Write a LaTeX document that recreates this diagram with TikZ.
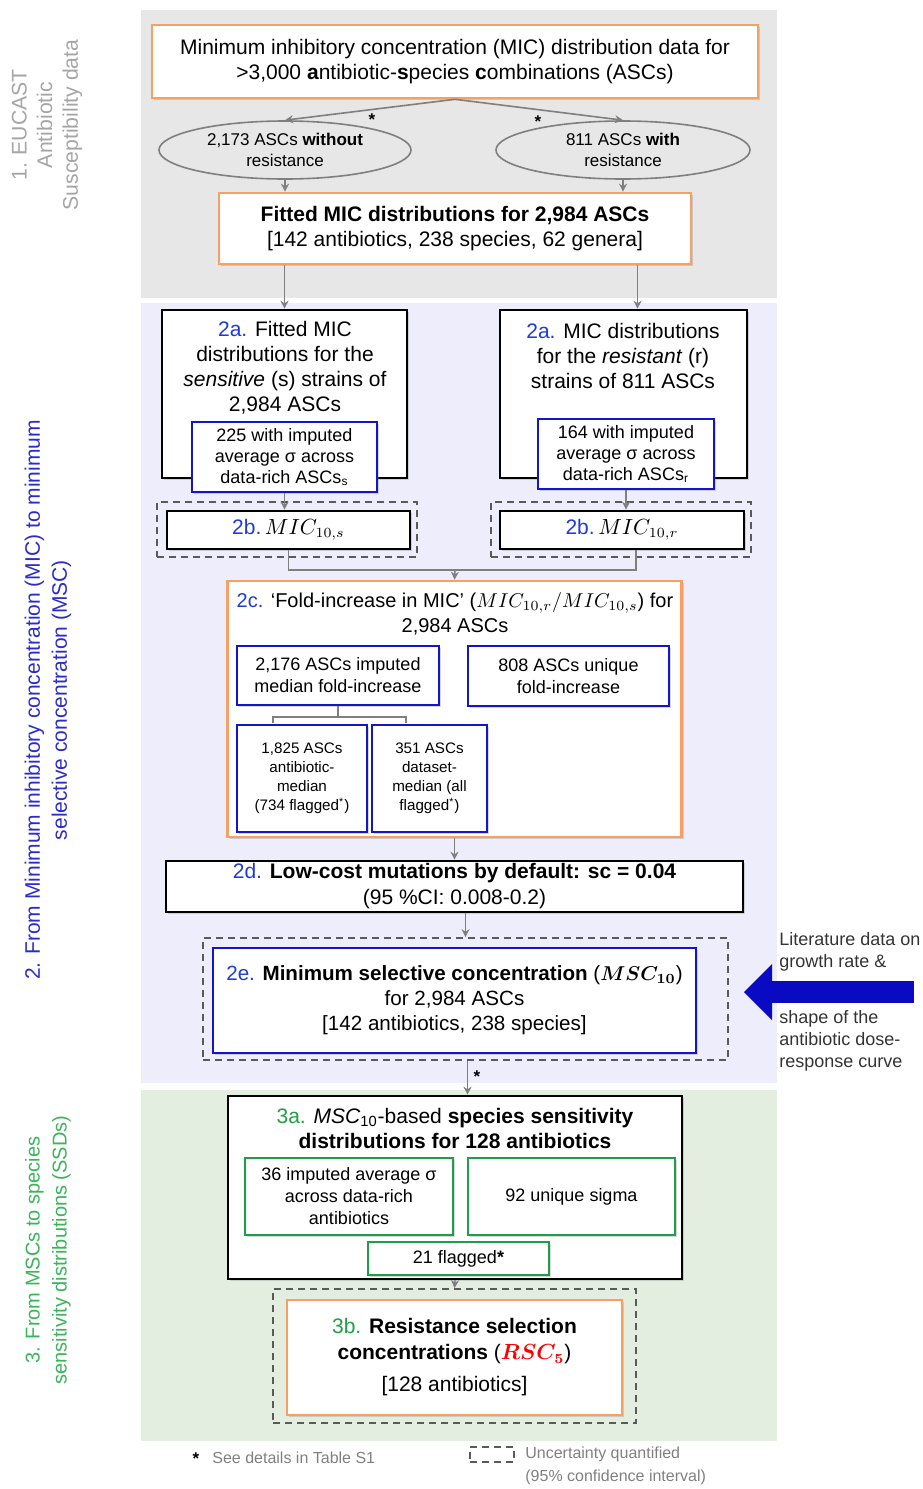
\documentclass[tikz,border=0pt]{standalone}
\usepackage{fontspec}
\setmainfont{Liberation Sans}
\usetikzlibrary{arrows.meta,shapes.geometric,shadows,positioning}

\definecolor{secgray}{HTML}{E7E7E7}
\definecolor{seclav}{HTML}{EDEDFB}
\definecolor{secgreen}{HTML}{E3EEE1}
\definecolor{boxorange}{HTML}{F7A064}
\definecolor{boxblue}{HTML}{1414C8}
\definecolor{boxgreen}{HTML}{1E9E46}
\definecolor{labblue}{HTML}{1F3BD6}
\definecolor{grntxt}{HTML}{1EA046}
\definecolor{sec1txt}{HTML}{A5A5A5}
\definecolor{sec2txt}{HTML}{2B2BCC}
\definecolor{sec3txt}{HTML}{3BB45A}
\definecolor{linegray}{HTML}{7F7F7F}
\definecolor{dashgray}{HTML}{5A5A5A}
\definecolor{arrowblue}{HTML}{0A0AC2}
\definecolor{legtxt}{HTML}{808080}
\definecolor{littxt}{HTML}{333333}

\newcommand{\fmain}{\fontsize{10.5}{12.5}\selectfont}
\newcommand{\fmid}{\fontsize{9}{11}\selectfont}
\newcommand{\fsmall}{\fontsize{8.5}{10.8}\selectfont}
\newcommand{\ftiny}{\fontsize{7.6}{9.5}\selectfont}
\newcommand{\stepno}[1]{\textcolor{labblue}{#1}}
\newcommand{\greenno}[1]{\textcolor{grntxt}{#1}}

\begin{document}
\begin{tikzpicture}[x=0.5pt, y=-0.5pt,
    every node/.style={font=\fmain, align=center, inner sep=0pt},
    shade/.style={drop shadow={shadow xshift=1.2pt, shadow yshift=-1.2pt, opacity=0.3}},
    orangebox/.style={draw=boxorange, line width=1.3pt, fill=white, shade},
    blackbox/.style={draw=black, line width=1.3pt, fill=white, shade},
    bluebox/.style={draw=boxblue, line width=1pt, fill=white, shade},
    greenbox/.style={draw=boxgreen, line width=1pt, fill=white, shade},
    dashbox/.style={draw=dashgray, line width=0.9pt, dash pattern=on 3.5pt off 2.5pt},
    oval/.style={ellipse, draw=linegray, line width=0.8pt, fill=secgray, font=\fsmall},
    link/.style={draw=linegray, line width=0.8pt},
    arr/.style={link, -{Stealth[length=4pt,width=4pt]}},
    bigarrow/.style={draw=arrowblue, line width=11pt, -{Triangle[length=14pt,width=28pt,line width=0pt]}},
    starmark/.style={font=\fsmall\bfseries}]
    \useasboundingbox (0,0) rectangle (922,1489);

    % Sections
    \fill[secgray] (141,10) rectangle (777,298);
    \fill[seclav] (141,303) rectangle (777,1083);
    \fill[secgreen] (141,1090) rectangle (777,1441);
    \node[rotate=90, text=sec1txt, font=\fontsize{10.6}{12.8}\selectfont] (sec1) at (47,125) {1. EUCAST\\Antibiotic\\Susceptibility data};
    \node[rotate=90, text=sec2txt, font=\fontsize{10.5}{13.5}\selectfont] (sec2) at (48,700) {2. From Minimum inhibitory concentration (MIC) to minimum\\selective concentration (MSC)};
    \node[rotate=90, text=sec3txt, font=\fontsize{10}{13.5}\selectfont] (sec3) at (48,1250) {3. From MSCs to species\\sensitivity distributions (SSDs)};

    % Step 1
    \node[orangebox, minimum width=303pt, minimum height=36.5pt] (mic) at (455,61.5) {Minimum inhibitory concentration (MIC) distribution data for\\>3,000 \textbf{a}ntibiotic-\textbf{s}pecies \textbf{c}ombinations (ASCs)};
    \node[oval, minimum width=126pt, minimum height=29pt] (nores) at (285,150) {2,173 ASCs \textbf{without}\\resistance};
    \node[oval, minimum width=127pt, minimum height=29pt] (withres) at (623,150) {811 ASCs \textbf{with}\\resistance};
    \node[starmark] (star1) at (372,120) {*};
    \node[starmark] (star2) at (538,122) {*};
    \node[orangebox, minimum width=236pt, minimum height=35.5pt] (fitted) at (455,228.5) {\textbf{Fitted MIC distributions for 2,984 ASCs}\\{[}142 antibiotics, 238 species, 62 genera{]}};

    % Step 2a, 2b
    \node[blackbox, minimum width=122.5pt, minimum height=84pt] (sens) at (284.5,394) {};
    \node (senstxt) at (285,368) {\stepno{2a.} Fitted MIC\\distributions for the\\\textit{sensitive} (s) strains of\\2,984 ASCs};
    \node[blackbox, minimum width=123.5pt, minimum height=84pt] (res) at (623.5,394) {};
    \node (restxt) at (623,356) {\stepno{2a.} MIC distributions\\for the \textit{resistant} (r)\\strains of 811 ASCs};
    \node[bluebox, font=\fontsize{9}{10.5}\selectfont, minimum width=92.5pt, minimum height=35pt] (sensimp) at (284.5,457) {225 with imputed\\average σ across\\data-rich ASCs\textsubscript{s}};
    \node[bluebox, font=\fontsize{9}{10.5}\selectfont, minimum width=88pt, minimum height=35pt] (resimp) at (626,454) {164 with imputed\\average σ across\\data-rich ASCs\textsubscript{r}};
    \node[dashbox, minimum width=130pt, minimum height=27.5pt] (micsdash) at (287,529.5) {};
    \node[blackbox, minimum width=121.5pt, minimum height=19pt] (mics) at (288.5,530) {\stepno{2b.}\,$MIC_{10,s}$};
    \node[dashbox, minimum width=130pt, minimum height=27.5pt] (micrdash) at (621,529.5) {};
    \node[blackbox, minimum width=122pt, minimum height=19pt] (micr) at (622,530) {\stepno{2b.}\,$MIC_{10,r}$};
    \coordinate (join) at (455,570);

    % Step 2c
    \node[orangebox, minimum width=227pt, minimum height=128pt] (fold) at (454.5,709) {};
    \node[font=\fontsize{10}{12.5}\selectfont] (foldtxt) at (455,614) {\stepno{2c.} ‘Fold-increase in MIC’ ($MIC_{10,r}/MIC_{10,s}$) for\\2,984 ASCs};
    \node[bluebox, font=\fmid, minimum width=101pt, minimum height=29.5pt] (foldimp) at (338,675.5) {2,176 ASCs imputed\\median fold-increase};
    \node[bluebox, font=\fmid, minimum width=100.5pt, minimum height=30pt] (folduniq) at (568.5,676) {808 ASCs unique\\fold-increase};
    \node[bluebox, font=\ftiny, minimum width=65pt, minimum height=53.5pt] (foldab) at (302,778.5) {1,825 ASCs\\antibiotic-\\median\\(734 flagged\textsuperscript{*})};
    \node[bluebox, font=\ftiny, minimum width=57.5pt, minimum height=53.5pt] (foldds) at (429.5,778.5) {351 ASCs\\dataset-\\median (all\\flagged\textsuperscript{*})};

    % Step 2d, 2e
    \node[blackbox, minimum width=288.5pt, minimum height=25.5pt, font=\fontsize{10.5}{13}\selectfont] (cost) at (454.5,886.5) {\stepno{2d.} \textbf{Low-cost mutations by default: sc = 0.04}\\(95 \%CI: 0.008-0.2)};
    \node[dashbox, minimum width=262.5pt, minimum height=61pt] (mscdash) at (465.5,999) {};
    \node[bluebox, line width=1.3pt, minimum width=241.5pt, minimum height=52.5pt, font=\fontsize{10.3}{12.5}\selectfont] (msc) at (454.5,1000.5) {\stepno{2e.} \textbf{Minimum selective concentration} ({\boldmath$MSC_{10}$})\\for 2,984 ASCs\\{[}142 antibiotics, 238 species{]}};
    \node[starmark] (star3) at (477,1077) {*};
    \node[anchor=west, align=left, font=\fontsize{9}{11}\selectfont, text=littxt] (littop) at (779,952) {Literature data on\\growth rate \&};
    \node[anchor=west, align=left, font=\fontsize{9}{11}\selectfont, text=littxt] (litbot) at (779,1041) {shape of the\\antibiotic dose-\\response curve};
    \coordinate (litfrom) at (914,992);
    \coordinate (litto) at (744,992);

    % Step 3a, 3b
    \node[blackbox, minimum width=227pt, minimum height=91.5pt] (ssd) at (455,1187.5) {};
    \node (ssdtxt) at (455,1128) {\greenno{3a.} \textit{MSC}\textsubscript{10}-based \textbf{species sensitivity}\\\textbf{distributions for 128 antibiotics}};
    \node[greenbox, font=\fmid, minimum width=104pt, minimum height=38.5pt] (ssdimp) at (349,1196.5) {36 imputed average σ\\across data-rich\\antibiotics};
    \node[greenbox, font=\fmid, minimum width=103.5pt, minimum height=38.5pt] (ssduniq) at (571.5,1196.5) {92 unique sigma};
    \node[greenbox, font=\fmid, minimum width=90.5pt, minimum height=16.5pt] (ssdflag) at (458.5,1258.5) {21 flagged\textbf{*}};
    \node[dashbox, minimum width=181.5pt, minimum height=67pt] (rscdash) at (454.5,1356) {};
    \node[orangebox, minimum width=167.5pt, minimum height=57.5pt, font=\fontsize{10.5}{13}\selectfont] (rsc) at (454.5,1357.5) {\greenno{3b.} \textbf{Resistance selection}\\\textbf{concentrations} (\textcolor{red}{\boldmath$RSC_{5}$})\\[3pt]{[}128 antibiotics{]}};

    % Legend
    \node[starmark] (legstar) at (196,1459) {*};
    \node[anchor=west, font=\fontsize{8}{10}\selectfont, text=legtxt] (legstartxt) at (212,1458) {See details in Table S1};
    \node[dashbox, minimum width=22pt, minimum height=7.5pt] (legbox) at (492,1454.5) {};
    \node[anchor=west, align=left, font=\fontsize{8}{11.5}\selectfont, text=legtxt] (legboxtxt) at (525,1466) {Uncertainty quantified\\(95\% confidence interval)};

    % Connections
    \draw[arr] (mic.south) -- (nores.north);
    \draw[arr] (mic.south) -- (withres.north);
    \draw[arr] (nores.south) -- (nores.south |- fitted.north);
    \draw[arr] (withres.south) -- (withres.south |- fitted.north);
    \draw[arr] (sens.north |- fitted.south) -- (sens.north);
    \draw[arr] ([xshift=7pt]res.north |- fitted.south) -- ([xshift=7pt]res.north);
    \draw[arr] (sensimp.south) -- (sensimp.south |- mics.north);
    \draw[arr] (resimp.south) -- (resimp.south |- micr.north);
    \draw[link] (mics.south) |- (join);
    \draw[link] ([xshift=7pt]micr.south) |- (join);
    \draw[arr] (join) -- (fold.north);
    \draw[link] (foldimp.south) -- ++(0,11) coordinate (brk);
    \draw[link] (brk) ++(-65,6) -- ++(0,-6) -- ++(133,0) -- ++(0,6);
    \draw[arr] (fold.south) -- (fold.south |- cost.north);
    \draw[arr] (mscdash.north |- cost.south) -- (mscdash.north);
    \draw[arr] ([xshift=1pt]mscdash.south) -- ([xshift=1pt]mscdash.south |- ssd.north);
    \draw[arr] (ssd.south) -- (rscdash.north);
    \draw[bigarrow] (litfrom) -- (litto); % literature input
\end{tikzpicture}
\end{document}
